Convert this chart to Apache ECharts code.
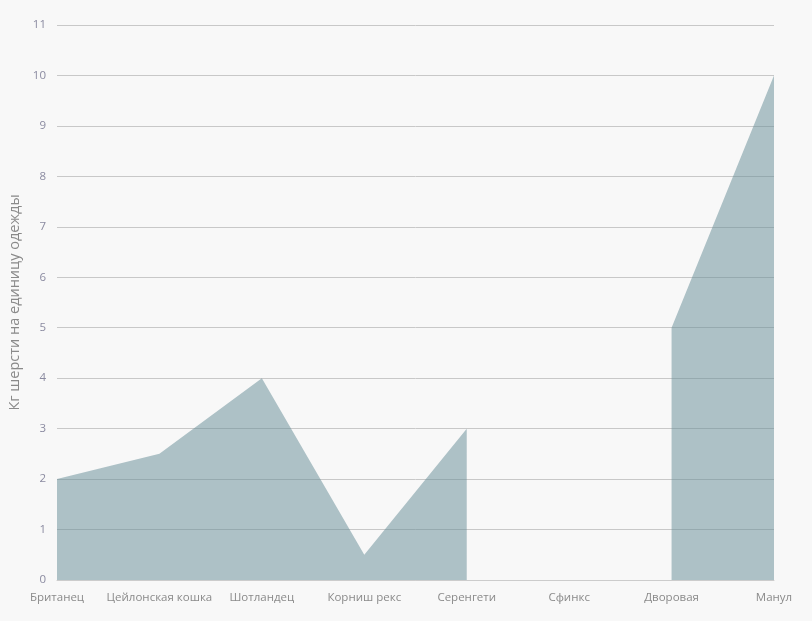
<!DOCTYPE html>
<html>
<head>
<meta charset="utf-8">
<script src="https://cdn.jsdelivr.net/npm/echarts@6/dist/echarts.min.js"></script>
<style>
html,body{margin:0;padding:0;background:#f8f8f8;}
#chart{width:812px;height:621px;}
</style>
</head>
<body>
<div id="chart"></div>
<script>
const categories = ['Британец', 'Цейлонская кошка', 'Шотландец', 'Корниш рекс', 'Серенгети', 'Сфинкс', 'Дворовая', 'Манул'];
const values = [2, 2.5, 4, 0.5, 3, null, 5, 10];
const yAxisName = 'Кг шерсти на единицу одежды';

const chart = echarts.init(document.getElementById('chart'));
const font = '"Open Sans", "Noto Sans", sans-serif';
chart.setOption({
  backgroundColor: '#f8f8f8',
  animation: false,
  grid: {left: 57, right: 38, top: 25, bottom: 41, containLabel: false, outerBoundsMode: 'none'},
  xAxis: {
    type: 'category',
    data: categories,
    boundaryGap: false,
    axisLine: {show: true, lineStyle: {color: '#cccccc'}},
    axisTick: {show: false},
    axisLabel: {color: '#8a8a8a', fontSize: 11.5, fontFamily: font, margin: 12, interval: 0}
  },
  yAxis: {
    type: 'value',
    min: 0, max: 11, interval: 1,
    name: yAxisName,
    nameLocation: 'middle',
    nameGap: 35,
    nameTextStyle: {color: '#8a8a8a', fontSize: 14.5, fontFamily: font},
    axisLine: {show: false},
    axisTick: {show: false},
    axisLabel: {color: '#8a8aa0', fontSize: 11.5, fontFamily: font, margin: 11},
    splitLine: {lineStyle: {color: '#c8c8c8'}}
  },
  series: [{
    type: 'line',
    data: values,
    connectNulls: false,
    symbol: 'none',
    lineStyle: {width: 0, opacity: 0},
    areaStyle: {color: 'rgba(104,142,152,0.52)', opacity: 1},
    z: 1
  }]
});
</script>
</body>
</html>
